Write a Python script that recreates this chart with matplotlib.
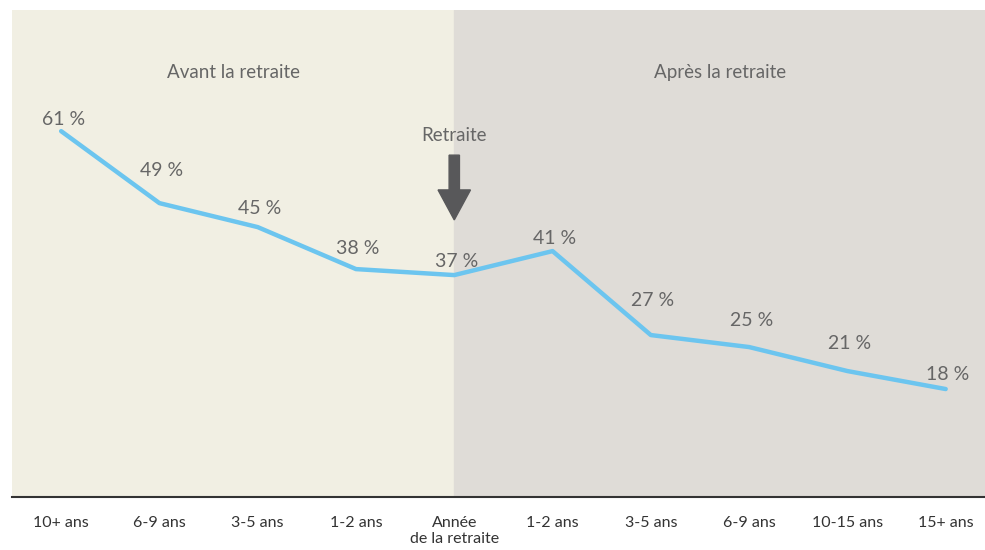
import matplotlib.pyplot as plt
from matplotlib.patches import FancyArrow

# data
categories = ['10+ ans', '6-9 ans', '3-5 ans', '1-2 ans', 'Année\nde la retraite',
              '1-2 ans', '3-5 ans', '6-9 ans', '10-15 ans', '15+ ans']
values = [61, 49, 45, 38, 37, 41, 27, 25, 21, 18]
# vertical offset of each value label centre above its point (pixels)
label_offsets = [12, 33, 19, 21, 14, 13, 35, 27, 28, 15]
region_labels = ['Avant la retraite', 'Après la retraite']

text_color = '#666666'
plt.rcParams['font.family'] = ['Lato', 'DejaVu Sans']

fig = plt.figure(figsize=(9.85, 5.5), dpi=100)
ax = fig.add_axes([12 / 985, 53 / 550, 973 / 985, 487 / 550])

x = list(range(len(values)))
ax.set_xlim(-0.5, 9.4)
ax.set_ylim(0, 81.2)

ax.axvspan(-0.5, 4, color='#f1efe3', zorder=0)
ax.axvspan(4, 9.4, color='#dfdcd7', zorder=0)

ax.plot(x, values, color='#6cc5ef', linewidth=3.2, solid_capstyle='round',
        solid_joinstyle='round', zorder=3)

for xi, v, off in zip(x, values, label_offsets):
    ax.annotate(f'{v} %', (xi, v), xytext=(1.5, off * 0.72), textcoords='offset points',
                ha='center', va='center', fontsize=14, color=text_color, zorder=4)

ax.text(1.75, 70.7, region_labels[0], ha='center', va='center', fontsize=13.5,
        color=text_color)
ax.text(6.7, 70.7, region_labels[1], ha='center', va='center', fontsize=13.5,
        color=text_color)
ax.text(4, 60.3, 'Retraite', ha='center', va='center', fontsize=13.5,
        color=text_color)

ax.add_patch(FancyArrow(4, 57.0, 0, -10.8, width=0.105, head_width=0.33,
                        head_length=5.0, length_includes_head=True,
                        color='#58585a', zorder=5))

ax.set_xticks(x)
ax.set_xticklabels(categories, fontsize=11.5, color='#333333', linespacing=1.15)
ax.tick_params(axis='x', length=0, pad=14)
ax.set_yticks([])
for s in ['top', 'right', 'left']:
    ax.spines[s].set_visible(False)
ax.spines['bottom'].set_color('#333333')
ax.spines['bottom'].set_linewidth(1.5)

fig.savefig('out.png', dpi=100)
